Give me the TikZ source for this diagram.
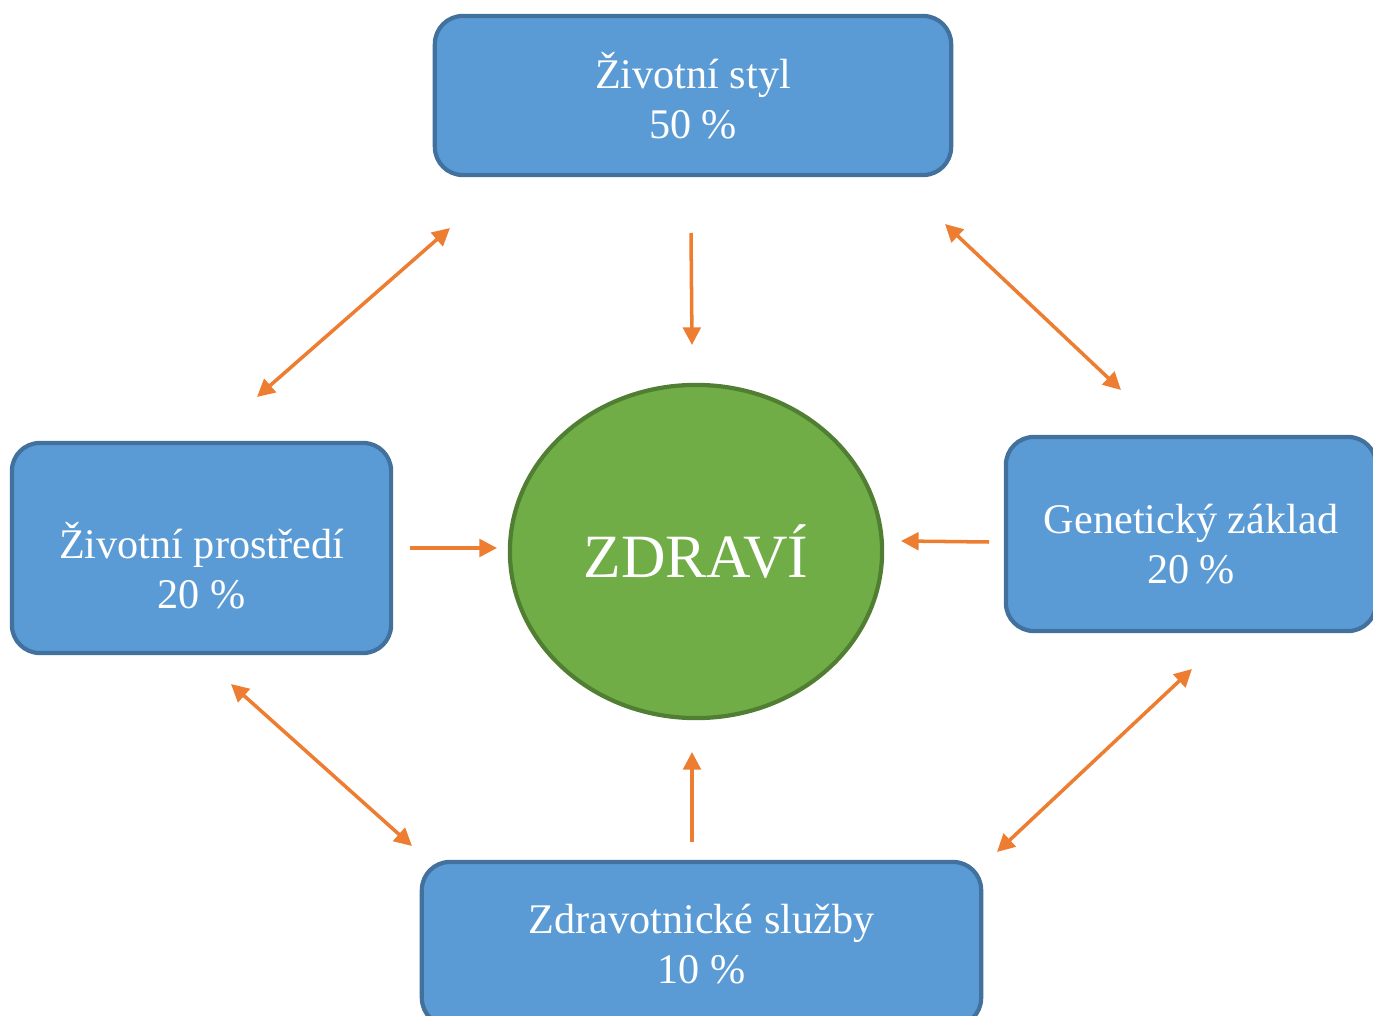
\documentclass[tikz,border=0pt]{standalone}
\usepackage{fontspec}
\setmainfont{Liberation Serif}
\usetikzlibrary{arrows.meta,shapes.geometric}
\definecolor{boxblue}{HTML}{5B9BD5}
\definecolor{boxline}{HTML}{41719C}
\definecolor{healthgreen}{HTML}{70AD47}
\definecolor{healthline}{HTML}{507E32}
\definecolor{arroworange}{HTML}{ED7D31}
\tikzset{
  factor/.style={draw=boxline,line width=1.2pt,fill=boxblue,rounded corners=0.28cm,inner sep=0pt},
  factortext/.style={text=white,align=center,font=\fontsize{12}{14.2}\selectfont,inner sep=0pt},
  link/.style={draw=arroworange,line width=1pt,-{Triangle[length=5pt,width=5pt]}},
  twoway/.style={link,{Triangle[length=5pt,width=5pt]}-{Triangle[length=5pt,width=5pt]}}
}
\begin{document}
\begin{tikzpicture}[x=0.01cm,y=-0.01cm]
\useasboundingbox (0,0) rectangle (1373,1016);
\clip (0,0) rectangle (1373,1016);
%\draw[help lines, color=gray!30] (0,0) grid[step=100] (1373,1016);
\node[factor,minimum width=5.16cm,minimum height=1.59cm] (styl) at (693,95.5) {};
\node[factortext] (styltext) at (styl.center) {Životní styl\\50 \%};
\node[factor,minimum width=3.79cm,minimum height=2.10cm] (prostredi) at (201.5,548) {};
\node[factortext,yshift=-0.18cm] (prostreditext) at (prostredi.center) {Životní prostředí\\20 \%};
\node[factor,minimum width=3.70cm,minimum height=1.94cm] (geny) at (1191,534) {};
\node[factortext,yshift=-0.10cm] (genytext) at (geny.center) {Genetický základ\\20 \%};
\node[factor,minimum width=5.59cm,minimum height=1.64cm] (sluzby) at (701.5,944) {};
\node[factortext] (sluzbytext) at (sluzby.center) {Zdravotnické služby\\10 \%};
\node[ellipse,draw=healthline,line width=1.2pt,fill=healthgreen,text=white,
  minimum width=3.72cm,minimum height=3.33cm,font=\fontsize{17.5}{20}\selectfont] (zdravi) at (696,551.5) {ZDRAVÍ};
% arrow ends
\coordinate (s1) at (691,233); \coordinate (s2) at (692,345);
\coordinate (p1) at (410,548); \coordinate (p2) at (497,548);
\coordinate (g1) at (989,542); \coordinate (g2) at (901,541);
\coordinate (z1) at (692,842); \coordinate (z2) at (692,752);
\coordinate (a1) at (450,228); \coordinate (a2) at (257,397);
\coordinate (b1) at (945,224); \coordinate (b2) at (1121,390);
\coordinate (c1) at (231,684); \coordinate (c2) at (412,846);
\coordinate (d1) at (1192,669); \coordinate (d2) at (997,852);
\draw[link] (s1)--(s2);
\draw[link] (p1)--(p2);
\draw[link] (g1)--(g2);
\draw[link] (z1)--(z2);
\draw[twoway] (a1)--(a2);
\draw[twoway] (b1)--(b2);
\draw[twoway] (c1)--(c2);
\draw[twoway] (d1)--(d2);
\end{tikzpicture}
\end{document}
